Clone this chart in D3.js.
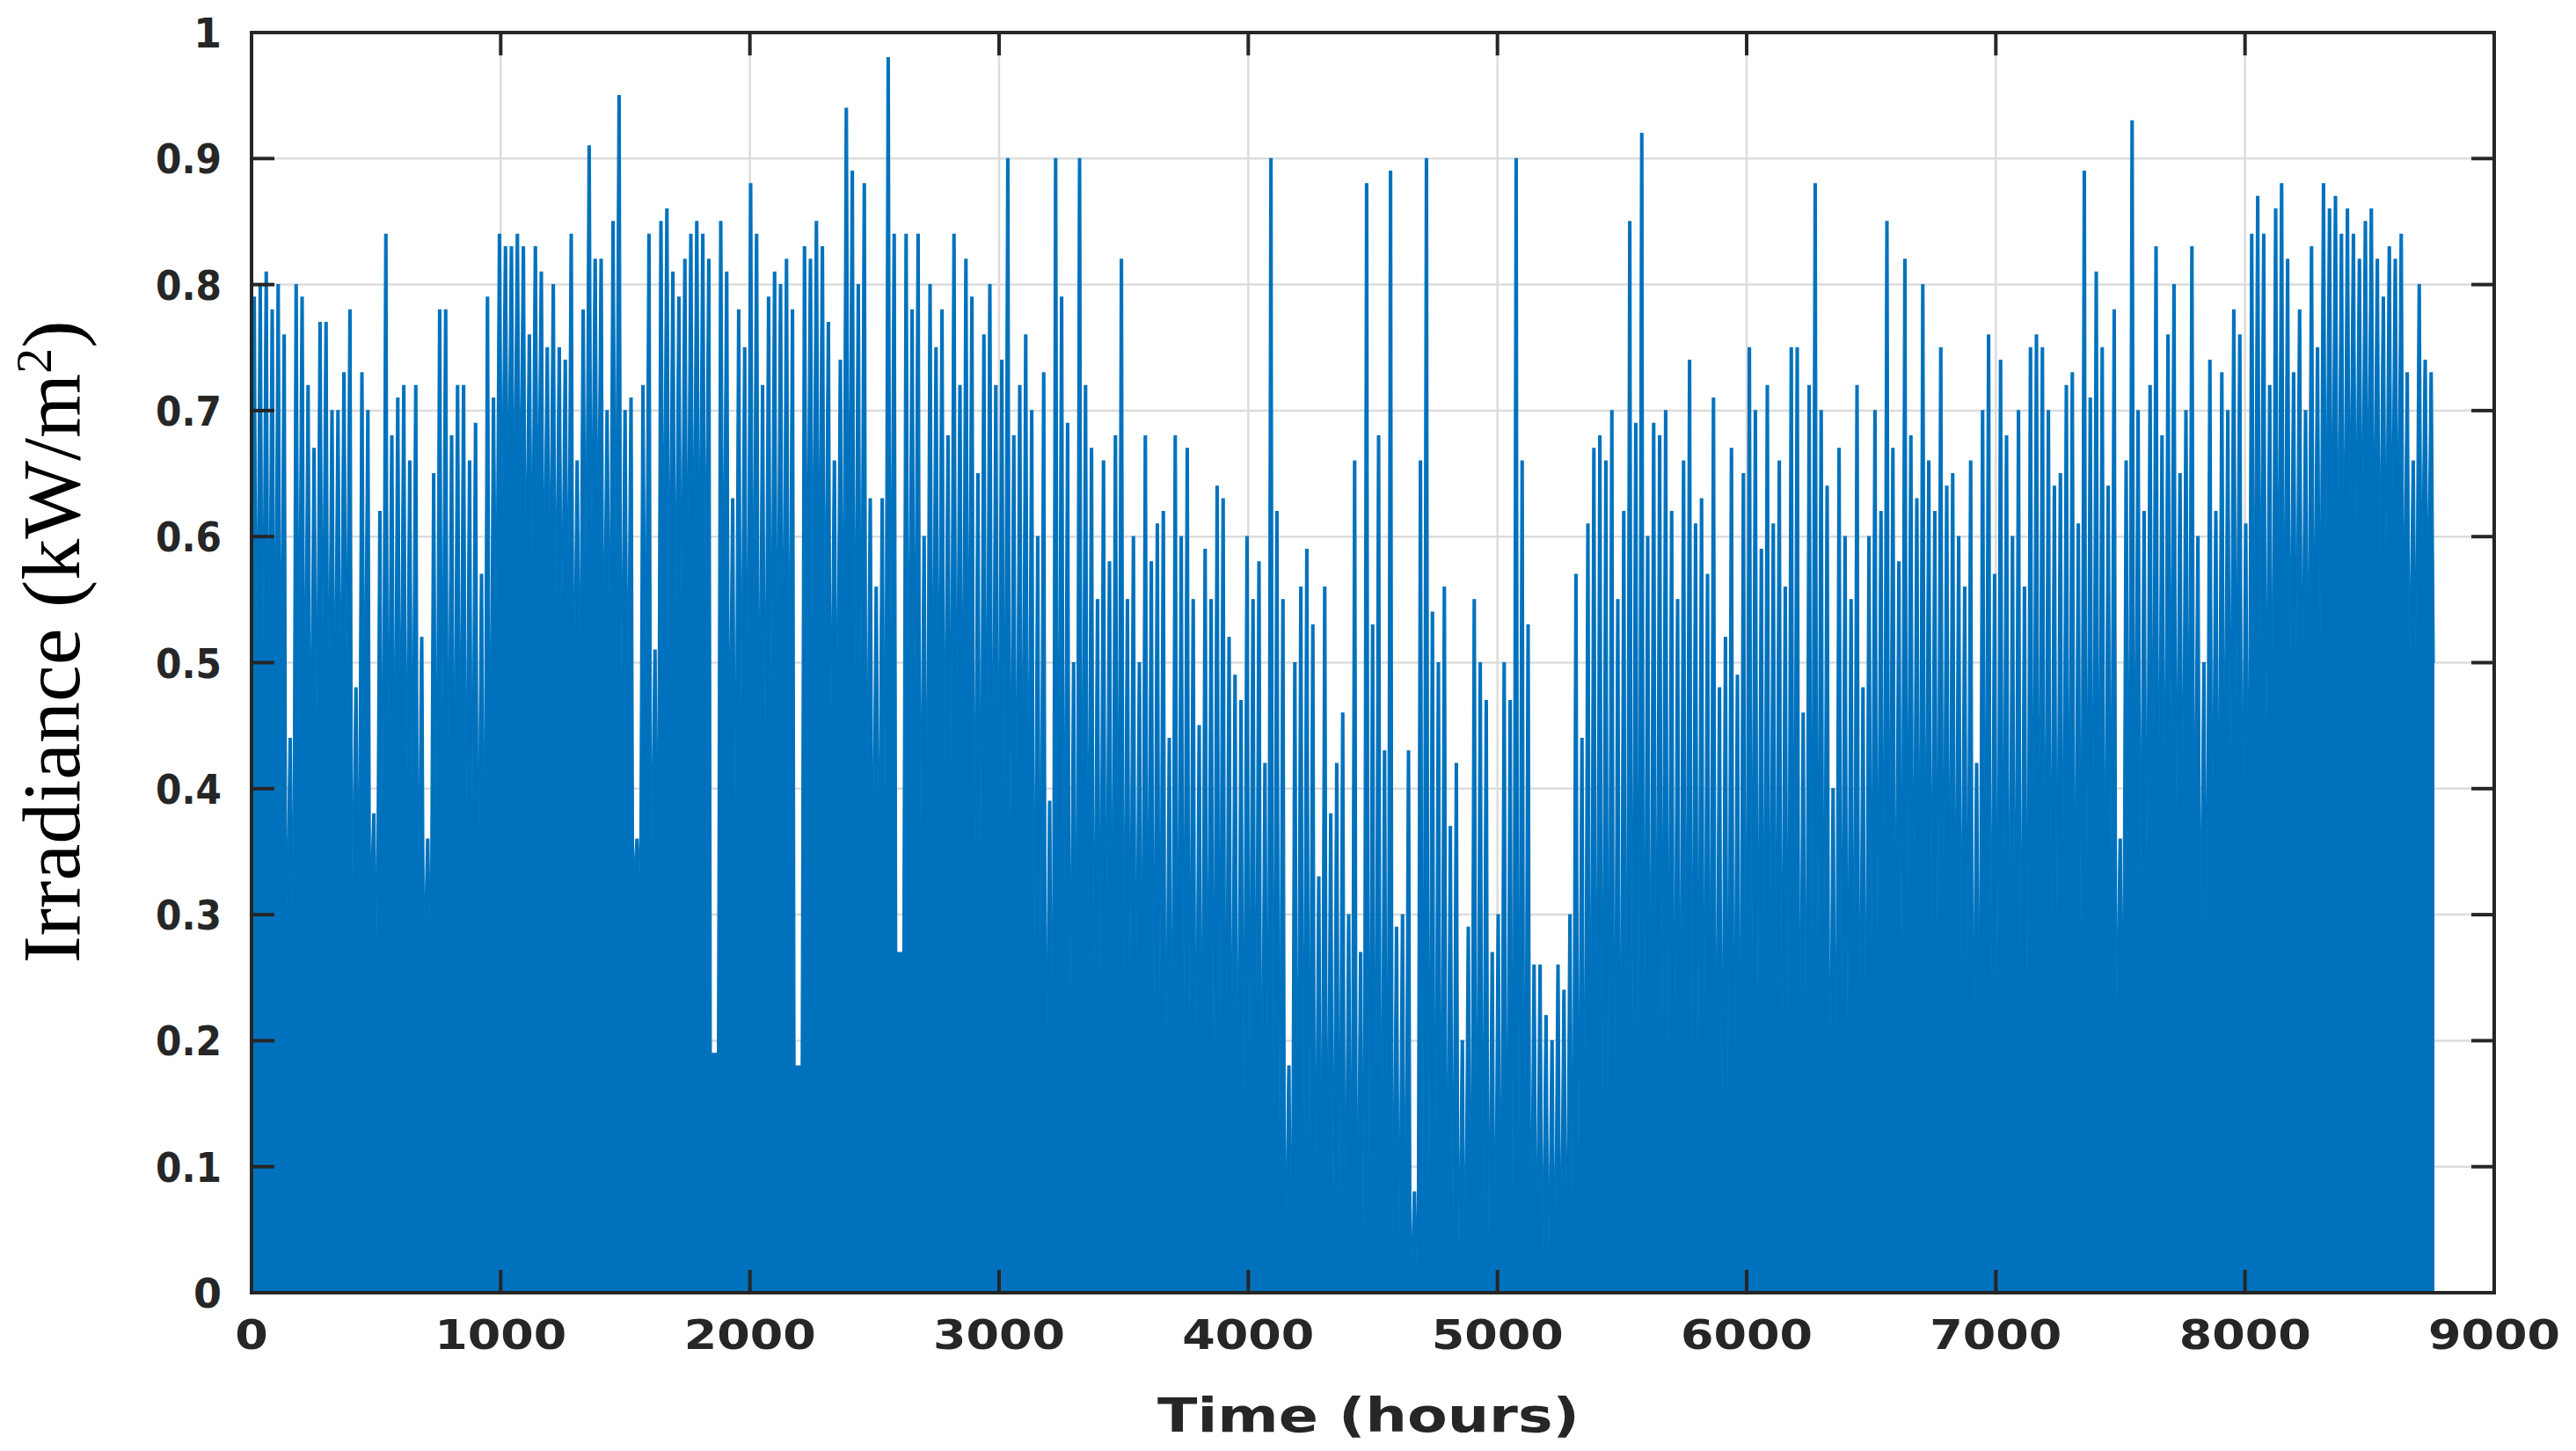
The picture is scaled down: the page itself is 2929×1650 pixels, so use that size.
<!DOCTYPE html>
<html><head><meta charset="utf-8">
<script src="https://cdn.jsdelivr.net/npm/d3@7"></script>
<style>body{margin:0;background:#fff}</style></head>
<body><svg id="c" width="2929" height="1650"></svg>
<script>
// Daily peak irradiance (kW/m^2), day 0..364
const dailyPeak = [
0.79,0.8,0.81,0.78,0.8,0.76,0.44,0.8,0.79,0.72,0.67,0.77,0.77,0.7,0.7,0.73,0.78,0.48,0.73,0.7,0.38,0.62,0.84,0.68,0.71,0.72,0.66,0.72,0.52,0.36,0.65,0.78,0.78,0.68,0.72,0.72,0.66,0.69,0.57,0.79,0.71,0.84,
0.83,0.83,0.84,0.83,0.76,0.83,0.81,0.75,0.8,0.75,0.74,0.84,0.66,0.78,0.91,0.82,0.82,0.7,0.85,0.95,0.7,0.71,0.36,0.72,0.84,0.51,0.85,0.86,0.81,0.79,0.82,0.84,0.85,0.84,0.82,0.19,0.85,0.81,0.63,0.78,0.75,0.88,
0.84,0.72,0.79,0.81,0.8,0.82,0.78,0.18,0.83,0.82,0.85,0.83,0.77,0.66,0.74,0.94,0.89,0.8,0.88,0.63,0.56,0.63,0.98,0.84,0.27,0.84,0.78,0.84,0.6,0.8,0.75,0.78,0.68,0.84,0.72,0.82,0.79,0.65,0.76,0.8,0.72,0.74,
0.9,0.68,0.72,0.76,0.7,0.6,0.73,0.39,0.9,0.79,0.69,0.5,0.9,0.72,0.67,0.55,0.66,0.58,0.68,0.82,0.55,0.6,0.5,0.68,0.58,0.61,0.62,0.44,0.68,0.6,0.67,0.55,0.45,0.59,0.55,0.64,0.63,0.52,0.49,0.47,0.6,0.55,
0.58,0.42,0.9,0.62,0.55,0.18,0.5,0.56,0.59,0.53,0.33,0.56,0.38,0.42,0.46,0.3,0.66,0.27,0.88,0.53,0.68,0.43,0.89,0.29,0.3,0.43,0.08,0.66,0.9,0.54,0.5,0.56,0.37,0.42,0.2,0.29,0.55,0.5,0.47,0.27,0.3,0.5,
0.47,0.9,0.66,0.53,0.26,0.26,0.22,0.2,0.26,0.24,0.3,0.57,0.44,0.61,0.67,0.68,0.66,0.7,0.55,0.62,0.85,0.69,0.92,0.6,0.69,0.68,0.7,0.62,0.55,0.66,0.74,0.61,0.63,0.57,0.71,0.48,0.52,0.67,0.49,0.65,0.75,
0.7,0.59,0.72,0.61,0.66,0.56,0.75,0.75,0.46,0.72,0.88,0.7,0.64,0.4,0.67,0.6,0.55,0.72,0.48,0.6,0.7,0.62,0.85,0.67,0.58,0.82,0.68,0.63,0.8,0.66,0.62,0.75,0.64,0.65,0.6,0.56,0.66,0.42,0.7,0.76,0.57,0.74,
0.68,0.6,0.7,0.56,0.75,0.76,0.75,0.7,0.64,0.65,0.72,0.73,0.61,0.89,0.71,0.81,0.75,0.64,0.78,0.36,0.66,0.93,0.7,0.62,0.72,0.83,0.68,0.76,0.8,0.65,0.7,0.83,0.6,0.5,0.74,0.62,0.73,0.7,0.78,0.76,0.61,0.84,
0.87,0.84,0.72,0.86,0.88,0.82,0.73,0.78,0.7,0.83,0.75,0.88,0.86,0.87,0.84,0.86,0.84,0.82,0.85,0.86,0.82,0.79,0.83,0.82,0.84,0.73,0.66,0.8,0.74,0.73
];
// Typical level down to which the fill stays solid, per 10-day block
const blockFloor = [0.42,0.44,0.4,0.38,0.5,0.48,0.45,0.45,0.4,0.45,0.4,0.4,0.35,0.3,0.3,0.25,0.22,0.15,0.12,0.1,0.1,0.1,0.15,0.2,0.2,0.25,0.25,0.3,0.3,0.28,0.3,0.35,0.38,0.4,0.45,0.48,0.5];
const xTicks = [0,1000,2000,3000,4000,5000,6000,7000,8000,9000];
const yTicks = [0,0.1,0.2,0.3,0.4,0.5,0.6,0.7,0.8,0.9,1];

const L=286,R=2836,T=37,B=1470;
const svg=d3.select("#c");
const x=d3.scaleLinear().domain([0,9000]).range([L,R]);
const y=d3.scaleLinear().domain([0,1]).range([B,T]);

svg.append("g").selectAll("line").data(xTicks.slice(1,-1)).join("line")
 .attr("x1",d=>x(d)).attr("x2",d=>x(d)).attr("y1",T).attr("y2",B)
 .attr("stroke","#dcdcdc").attr("stroke-width",2.5);
svg.append("g").selectAll("line").data(yTicks.slice(1,-1)).join("line")
 .attr("y1",d=>y(d)).attr("y2",d=>y(d)).attr("x1",L).attr("x2",R)
 .attr("stroke","#dcdcdc").attr("stroke-width",2.5);

// night gap between day d and d+1: depth depends on the lower of the two peaks
const gapLevel = d => {
  const bf=blockFloor[Math.floor(d/10)];
  const a=dailyPeak[d], b=dailyPeak[Math.min(d+1,dailyPeak.length-1)];
  const m=Math.min(a,b);
  return Math.min(m, Math.max(bf-0.12, Math.min(bf+0.15, bf*(m/0.65))));
};
const pts=[[0,0.12]];
dailyPeak.forEach((p,d)=>{
  const gl=gapLevel(d);
  pts.push([d*24+6,p],[d*24+16,p],[d*24+21.5,gl]);
});
pts.push([8760,0.5]);
const area=d3.area().x(d=>x(d[0])).y0(y(0)).y1(d=>y(d[1]));
svg.append("path").datum(pts).attr("d",area).attr("fill","#0072bd");
svg.append("path").datum(pts).attr("d",d3.line().x(d=>x(d[0])).y(d=>y(d[1])))
 .attr("fill","none").attr("stroke","#0072bd").attr("stroke-width",1.2);

const ax="#262626";
svg.append("rect").attr("x",L).attr("y",T).attr("width",R-L).attr("height",B-T)
 .attr("fill","none").attr("stroke",ax).attr("stroke-width",4);
const tl=26;
const tk=svg.append("g").attr("stroke",ax).attr("stroke-width",4);
xTicks.forEach(t=>{
  tk.append("line").attr("x1",x(t)).attr("x2",x(t)).attr("y1",B).attr("y2",B-tl);
  tk.append("line").attr("x1",x(t)).attr("x2",x(t)).attr("y1",T).attr("y2",T+tl);
});
yTicks.forEach(t=>{
  tk.append("line").attr("y1",y(t)).attr("y2",y(t)).attr("x1",L).attr("x2",L+tl);
  tk.append("line").attr("y1",y(t)).attr("y2",y(t)).attr("x1",R).attr("x2",R-tl);
});

const font="'DejaVu Sans', sans-serif";
svg.append("g").selectAll("text").data(xTicks).join("text")
 .attr("x",d=>x(d)).attr("y",B+64).attr("text-anchor","middle")
 .attr("font-family",font).attr("font-weight","bold").attr("font-size",46).attr("fill",ax)
 .attr("textLength",d=>String(d).length*37.5).attr("lengthAdjust","spacingAndGlyphs").text(d=>d);
svg.append("g").selectAll("text").data(yTicks).join("text")
 .attr("x",252).attr("y",d=>y(d)+17).attr("text-anchor","end")
 .attr("font-family",font).attr("font-weight","bold").attr("font-size",46).attr("fill",ax)
 .each(function(d){ const s=String(d); if(s.length>1) d3.select(this).attr("textLength",75).attr("lengthAdjust","spacingAndGlyphs"); })
 .text(d=>d);
svg.append("text").attr("x",1556).attr("y",1628).attr("text-anchor","middle")
 .attr("font-family",font).attr("font-weight","bold").attr("font-size",54).attr("fill",ax)
 .attr("textLength",480).attr("lengthAdjust","spacingAndGlyphs").text("Time (hours)");
const yl=svg.append("text").attr("transform","translate(90,730) rotate(-90)")
 .attr("text-anchor","middle").attr("font-family","'Liberation Serif', serif")
 .attr("font-size",94).attr("fill","#000");
yl.append("tspan").text("Irradiance (kW/m");
yl.append("tspan").attr("baseline-shift","super").attr("font-size",58).text("2");
yl.append("tspan").text(")");
</script></body></html>
